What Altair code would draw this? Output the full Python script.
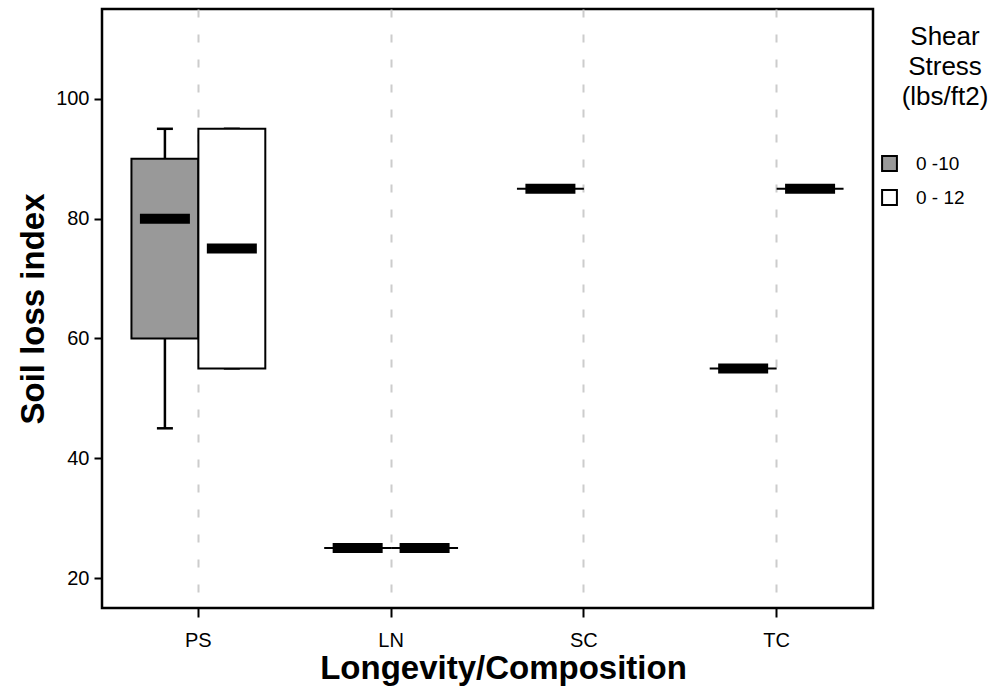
import altair as alt
import pandas as pd

categories = ["PS", "PS", "LN", "LN", "SC", "TC", "TC"]
series = ["0 -10", "0 - 12", "0 -10", "0 - 12", "0 -10", "0 -10", "0 - 12"]
lower = [45, 55, 25, 25, 85, 55, 85]
q1 = [60, 55, 25, 25, 85, 55, 85]
median = [80, 75, 25, 25, 85, 55, 85]
q3 = [90, 95, 25, 25, 85, 55, 85]
upper = [95, 95, 25, 25, 85, 55, 85]

cat_order = ["PS", "LN", "SC", "TC"]
series_order = ["0 -10", "0 - 12"]
series_colors = ["#999999", "#ffffff"]
y_ticks = [20, 40, 60, 80, 100]
legend_title = "Shear\nStress\n(lbs/ft2)"

df = pd.DataFrame({
    "cat": categories, "series": series, "lower": lower, "q1": q1,
    "median": median, "q3": q3, "upper": upper,
})

FONT = "Liberation Sans"

x_enc = alt.X(
    "cat:N",
    scale=alt.Scale(domain=cat_order, paddingInner=0, paddingOuter=0),
    axis=alt.Axis(
        title="Longevity/Composition", labelAngle=0, grid=True,
        gridDash=[8, 17], gridColor="#cccccc", gridWidth=2, domain=False,
        tickColor="black", tickSize=9, tickWidth=2, bandPosition=0.5,
        labelFontSize=20, labelColor="black", labelPadding=13,
        titleFontSize=33, titleFontWeight="bold", titleColor="black",
        titlePadding=2, titleX=401, labelFont=FONT, titleFont=FONT,
    ),
)
xo_enc = alt.XOffset(
    "series:N",
    scale=alt.Scale(domain=series_order, paddingInner=0, paddingOuter=0.44),
)
y_scale = alt.Scale(domain=[15, 115], nice=False, zero=False)
y_axis = alt.Axis(
    values=y_ticks, grid=False, domain=False, tickColor="black",
    tickSize=8, tickWidth=2, labelFontSize=20, labelColor="black",
    labelPadding=5, title="Soil loss index", titleFontSize=33,
    titleFontWeight="bold", titleColor="black", titlePadding=5,
    labelFont=FONT, titleFont=FONT,
)

base = alt.Chart(df)

whisker = base.mark_rule(color="black", strokeWidth=2.5).encode(
    x=x_enc, xOffset=xo_enc,
    y=alt.Y("lower:Q", scale=y_scale, axis=y_axis, title="Soil loss index"),
    y2="upper:Q",
)
cap_lo = base.mark_tick(color="black", size=16, thickness=2.5, opacity=1).encode(
    x=x_enc, xOffset=xo_enc,
    y=alt.Y("lower:Q", scale=y_scale, axis=y_axis, title="Soil loss index"),
)
cap_hi = base.mark_tick(color="black", size=16, thickness=2.5, opacity=1).encode(
    x=x_enc, xOffset=xo_enc,
    y=alt.Y("upper:Q", scale=y_scale, axis=y_axis, title="Soil loss index"),
)
box = base.mark_bar(stroke="black", strokeWidth=2, opacity=1).encode(
    x=x_enc, xOffset=xo_enc,
    y=alt.Y("q1:Q", scale=y_scale, axis=y_axis, title="Soil loss index"),
    y2="q3:Q",
    color=alt.Color(
        "series:N",
        scale=alt.Scale(domain=series_order, range=series_colors),
        legend=alt.Legend(
            title=None, orient="none", legendX=778, legendY=145,
            labelFontSize=19, labelColor="black",
            symbolType="square", symbolSize=220, symbolStrokeColor="black",
            symbolStrokeWidth=2, symbolOpacity=1, rowPadding=11,
            labelOffset=17, labelFont=FONT, padding=0,
        ),
    ),
)
med = base.mark_tick(color="black", size=50, thickness=10, opacity=1).encode(
    x=x_enc, xOffset=xo_enc,
    y=alt.Y("median:Q", scale=y_scale, axis=y_axis, title="Soil loss index"),
)

title_text = alt.Chart(pd.DataFrame({"t": [legend_title]})).mark_text(
    align="center", baseline="alphabetic", fontSize=26, lineHeight=30,
    lineBreak="\n", font=FONT, color="black",
).encode(x=alt.value(843), y=alt.value(36), text="t:N")

chart = alt.layer(whisker, cap_lo, cap_hi, box, med, title_text).properties(
    width=771, height=599,
    autosize=alt.AutoSizeParams(type="none"),
    padding={"left": 102, "top": 9, "right": 129, "bottom": 90},
).configure(
    font=FONT, background="white",
    view=alt.ViewConfig(stroke="black", strokeWidth=2.5),
)

chart.save("out.html", embed_options={"renderer": "svg", "actions": False})
